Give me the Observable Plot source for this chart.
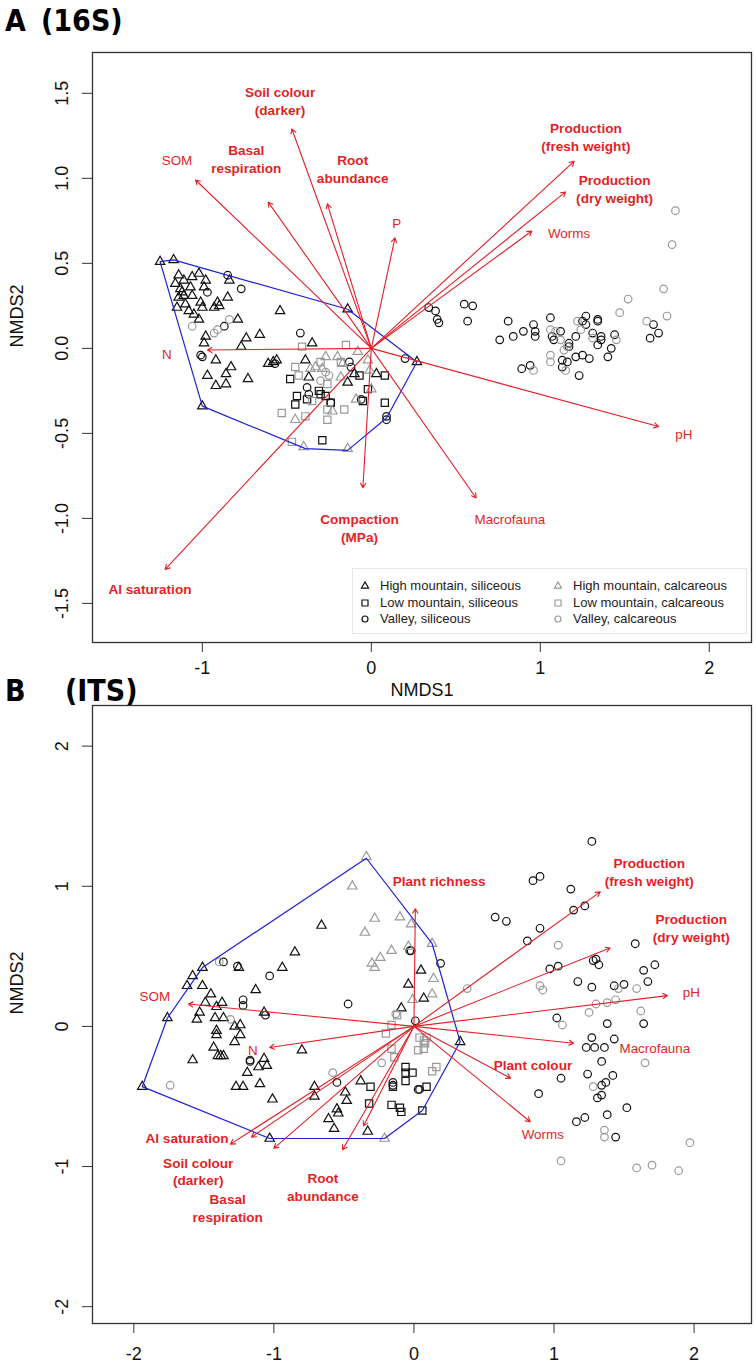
<!DOCTYPE html>
<html><head><meta charset="utf-8">
<script src="https://cdn.jsdelivr.net/npm/d3@7"></script>
<script src="https://cdn.jsdelivr.net/npm/@observablehq/plot@0.6"></script>
<style>
body{margin:0;background:#fff;}
#root{position:relative;width:756px;height:1368px;overflow:hidden;background:#fff;font-family:"Liberation Sans",Arial,Helvetica,sans-serif;}
.panel{position:absolute;left:0;}
.title{position:absolute;font-family:"DejaVu Sans Condensed","DejaVu Sans",sans-serif;font-stretch:condensed;font-weight:bold;font-size:30px;line-height:30px;color:#000;white-space:pre;}
.legend{position:absolute;border:1px solid #e6e6e6;background:#fff;}
.li{position:absolute;font-size:13px;line-height:16px;color:#222;white-space:nowrap;display:flex;align-items:center;}
.li svg{margin-right:10px;overflow:visible;}
</style></head><body><div id="root"></div>
<script>
// ---------------- Panel A (16S) data ----------------
const A_highSil = [[-1.25,0.51],[-1.17,0.52],[-0.84,0.40],[-1.14,0.43],[-1.11,0.40],[-1.06,0.42],[-1.02,0.44],[-0.98,0.40],[-1.16,0.38],[-1.13,0.35],[-1.07,0.36],[-0.99,0.36],[-1.14,0.30],[-1.06,0.31],[-1.01,0.27],[-1.10,0.26],[-1.15,0.24],[-1.08,0.22],[-1.00,0.24],[-0.93,0.24],[-0.91,0.27],[-0.85,0.30],[-0.90,0.25],[-1.02,0.17],[-0.79,0.17],[-0.54,0.22],[-0.14,0.23],[-0.98,0.07],[-0.99,0.03],[-0.74,0.06],[-0.66,0.08],[-0.77,0.01],[-0.35,0.03],[-0.92,-0.07],[-0.83,-0.11],[-0.86,-0.15],[-0.97,-0.16],[-0.92,-0.22],[-0.86,-0.21],[-0.73,-0.18],[-1.00,-0.34],[-0.61,-0.09],[-0.58,-0.08],[-0.56,-0.07],[-0.39,-0.07],[-0.37,-0.17],[-0.14,-0.20],[-0.10,-0.15],[0.03,-0.15],[0.27,-0.08],[-1.12,0.33],[-1.11,0.31],[-1.05,0.20]];
const A_lowSil = [[-0.48,-0.18],[-0.44,-0.28],[-0.45,-0.33],[-0.38,-0.30],[-0.31,-0.25],[-0.30,-0.27],[-0.27,-0.28],[-0.07,-0.16],[0.08,-0.16],[-0.02,-0.24],[-0.05,-0.31],[0.08,-0.32],[-0.29,-0.54],[-0.24,-0.32]];
const A_valleySil = [[-0.85,0.43],[-0.77,0.35],[-0.97,0.33],[-0.87,0.13],[-1.01,-0.04],[-1.00,-0.05],[-0.42,0.09],[-0.57,-0.09],[-0.13,-0.08],[-0.12,-0.11],[-0.38,-0.23],[-0.37,-0.27],[-0.24,-0.32],[-0.06,-0.30],[0.09,-0.40],[0.09,-0.42],[0.20,-0.06],
  [0.34,0.24],[0.38,0.22],[0.39,0.17],[0.40,0.15],[0.55,0.26],[0.60,0.25],[0.57,0.16],[0.81,0.16],[0.76,0.05],[0.84,0.07],[0.90,0.10],[0.96,0.14],[0.97,0.10],[0.97,0.07],[0.89,-0.12],[0.94,-0.10],[1.06,0.18],[1.07,0.07],[1.08,0.05],[1.12,0.10],[1.13,-0.07],[1.13,-0.11],[1.16,-0.08],[1.17,0.03],[1.17,0.01],[1.21,0.07],[1.21,-0.05],[1.23,-0.16],[1.25,0.16],[1.27,0.19],[1.27,0.14],[1.25,-0.04],[1.29,-0.06],[1.31,0.09],[1.34,0.16],[1.34,0.17],[1.34,0.02],[1.36,0.07],[1.36,0.05],[1.40,-0.05],[1.42,0.00],[1.44,0.08],[1.65,0.06],[1.67,0.14],[1.70,0.09]];
const A_highCal = [[-0.27,-0.05],[-0.33,-0.11],[-0.36,-0.12],[-0.20,-0.05],[-0.08,-0.02],[-0.02,-0.07],[-0.17,-0.09],[0.00,-0.24],[-0.09,-0.30],[-0.23,-0.37],[-0.45,-0.42],[-0.40,-0.58],[-0.14,-0.59],[-0.29,-0.12],[-0.18,-0.17],[-0.01,-0.13]];
const A_lowCal = [[-0.41,0.01],[-0.15,0.02],[-0.45,-0.11],[-0.43,-0.16],[-0.26,-0.21],[-0.35,-0.31],[-0.26,-0.36],[-0.16,-0.36],[-0.53,-0.38],[-0.39,-0.40],[-0.26,-0.42],[-0.47,-0.55],[-0.30,-0.08],[-0.18,-0.08]];
const A_valleyCal = [[-1.06,0.13],[-0.93,0.09],[-0.91,0.11],[-0.84,0.17],[-0.27,-0.14],[-0.25,-0.16],[-0.30,-0.19],
  [1.80,0.81],[1.78,0.61],[1.73,0.35],[1.52,0.29],[1.75,0.19],[1.63,0.16],[1.47,0.21],[1.22,0.16],[1.24,0.11],[1.06,0.11],[1.09,0.10],[1.12,0.05],[1.14,-0.01],[1.16,0.01],[1.06,-0.04],[1.06,-0.08],[0.96,-0.13],[1.15,-0.13],[1.31,0.06],[1.45,0.05]];
const A_hull = [[-1.25,0.51],[-1.17,0.52],[-0.14,0.23],[0.27,-0.08],[0.09,-0.41],[-0.14,-0.60],[-0.39,-0.59],[-1.00,-0.34]];
const A_vecX = [-1.04,-0.61,-0.47,-0.26,0.14,1.20,1.15,0.95,1.70,0.62,-0.05,-0.97,-1.22];
const A_vecY = [0.99,0.86,1.29,0.85,0.65,1.10,0.92,0.69,-0.46,-0.88,-0.82,-0.01,-1.30];
const A_labText = ["SOM","Basal\nrespiration","Soil colour\n(darker)","Root\nabundance","P","Production\n(fresh weight)","Production\n(dry weight)","Worms","pH","Macrofauna","Compaction\n(MPa)","N","Al saturation"];
const A_labX = [-1.15,-0.74,-0.54,-0.11,0.15,1.27,1.44,1.17,1.85,0.82,-0.07,-1.21,-1.31];
const A_labY = [1.11,1.12,1.46,1.06,0.74,1.25,0.94,0.68,-0.50,-1.00,-1.05,-0.03,-1.41];
const A_labBold = [false,true,true,true,false,true,true,false,false,false,true,false,true];
const A_xTicks = [-1,0,1,2];
const A_yTicks = [-1.5,-1.0,-0.5,0.0,0.5,1.0,1.5];

// ---------------- Panel B (ITS) data ----------------
const B_highSil = [[-1.51,0.42],[-1.58,0.36],[-1.62,0.29],[-1.51,0.29],[-1.45,0.23],[-1.76,0.06],[-1.37,0.17],[-1.49,0.17],[-1.41,0.14],[-1.53,0.10],[-1.55,0.05],[-1.42,0.06],[-1.36,0.06],[-1.41,-0.03],[-1.41,-0.06],[-1.28,0.00],[-1.24,0.01],[-1.24,-0.06],[-1.28,-0.11],[-1.43,-0.15],[-1.38,-0.21],[-1.36,-0.21],[-1.40,-0.21],[-1.58,-0.24],[-1.07,-0.23],[-1.11,-0.29],[-1.05,-0.28],[-1.19,-0.33],[-1.27,-0.43],[-1.22,-0.43],[-1.10,-0.41],[-0.80,-0.17],[-1.13,0.26],[-1.25,0.42],[-0.94,0.42],[-0.85,0.53],[-0.66,0.72],[-1.07,0.10],[-1.94,-0.43],[0.05,0.40],[-0.04,0.30],[0.07,0.20],[-0.09,0.13],[0.33,-0.11],
  [-0.71,-0.43],[-0.71,-0.50],[-0.49,-0.47],[-0.48,-0.53],[-0.38,-0.39],[-0.55,-0.59],[-0.54,-0.62],[-1.01,-0.52],[-0.61,-0.66],[-0.57,-0.73],[-0.33,-0.75],[-1.03,-0.80]];
const B_lowSil = [[-0.31,-0.43],[-0.06,-0.29],[-0.06,-0.33],[-0.01,-0.33],[-0.06,-0.39],[0.09,-0.43],[-0.32,-0.55],[-0.16,-0.56],[-0.10,-0.58],[-0.09,-0.61],[0.06,-0.60],[-0.15,-0.43]];
const B_valleySil = [[-1.36,0.46],[-1.26,0.43],[-1.03,0.36],[-1.22,0.19],[-1.22,0.15],[-1.06,0.08],[-0.47,0.16],[-0.03,0.54],[-0.02,0.54],[0.19,0.45],[0.01,0.04],[-1.17,-0.24],[-1.17,-0.25],[-0.55,-0.40],[-0.15,-0.40],[-0.15,-0.42],[0.03,-0.45],[0.04,-0.45],
  [1.27,1.32],[0.85,1.04],[0.90,1.07],[1.12,0.98],[1.14,0.83],[1.22,0.86],[0.58,0.78],[0.66,0.75],[0.90,0.70],[0.81,0.61],[0.97,0.41],[1.03,0.43],[1.58,0.59],[1.28,0.47],[1.30,0.48],[1.32,0.44],[1.72,0.44],[1.64,0.40],[1.67,0.32],[1.17,0.32],[1.27,0.28],[1.43,0.29],[1.50,0.30],[1.02,0.06],[1.38,0.02],[1.64,0.02],[1.27,-0.08],[1.23,-0.15],[1.29,-0.15],[1.36,-0.15],[1.43,-0.09],[1.34,-0.25],[1.05,-0.37],[1.24,-0.34],[1.34,-0.42],[1.37,-0.40],[1.42,-0.35],[1.31,-0.51],[1.34,-0.49],[0.89,-0.48],[1.52,-0.58],[1.38,-0.63],[1.16,-0.68],[1.22,-0.65],[1.44,-0.79]];
const B_highCal = [[-0.34,1.21],[-0.44,1.00],[-0.28,0.77],[-0.35,0.67],[-0.10,0.78],[-0.02,0.73],[-0.16,0.54],[-0.24,0.49],[-0.30,0.45],[-0.28,0.42],[-0.04,0.57],[0.13,0.59],[0.14,0.34],[0.13,0.23],[-0.01,0.19],[-0.21,-0.80]];
const B_lowCal = [[-0.12,0.08],[-0.16,0.01],[-0.20,-0.05],[0.04,-0.08],[0.07,-0.10],[0.09,-0.08],[0.08,-0.12],[0.07,-0.16],[0.03,-0.17],[-0.16,-0.16],[-0.14,-0.22],[0.13,-0.32],[0.16,-0.29]];
const B_valleyCal = [[-1.39,0.46],[-1.31,0.05],[-1.74,-0.42],[-0.13,0.09],[0.38,0.27],[-0.58,-0.33],[-0.23,-0.26],[1.03,0.58],[0.90,0.29],[0.92,0.26],[1.46,0.27],[1.59,0.27],[1.06,0.01],[1.25,0.10],[1.30,0.16],[1.38,0.17],[1.44,0.19],[1.62,0.11],[1.65,-0.26],[1.28,-0.43],[1.36,-0.74],[1.36,-0.79],[1.97,-0.83],[1.05,-0.96],[1.59,-1.01],[1.70,-0.99],[1.89,-1.03]];
const B_hull = [[-0.34,1.20],[0.13,0.59],[0.33,-0.11],[0.06,-0.60],[-0.21,-0.80],[-1.03,-0.80],[-1.94,-0.43],[-1.76,0.06],[-1.51,0.42]];
const B_vecX = [0.01,-1.61,-1.03,1.33,1.40,1.81,1.14,0.69,0.83,-1.31,-1.16,-1.00,-0.51,-0.36];
const B_vecY = [0.84,0.16,-0.15,0.96,0.56,0.22,-0.12,-0.37,-0.68,-0.84,-0.79,-0.87,-0.88,-0.71];
const B_labText = ["Plant richness","SOM","N","Production\n(fresh weight)","Production\n(dry weight)","pH","Macrofauna","Plant colour","Worms","Al saturation","Soil colour\n(darker)","Basal\nrespiration","Root\nabundance"];
const B_labX = [0.18,-1.85,-1.15,1.68,1.98,1.98,1.72,0.85,0.92,-1.62,-1.54,-1.33,-0.65];
const B_labY = [1.04,0.22,-0.16,1.11,0.71,0.25,-0.15,-0.27,-0.76,-0.79,-1.03,-1.29,-1.14];
const B_labBold = [true,false,false,true,true,false,false,true,false,true,true,true,true];
const B_xTicks = [-2,-1,0,1,2];
const B_yTicks = [-2,-1,0,1,2];

const groupNames = ["High mountain, siliceous","Low mountain, siliceous","Valley, siliceous","High mountain, calcareous","Low mountain, calcareous","Valley, calcareous"];

// ---------------- styling ----------------
const RED = "#e41f26", BLUE = "#1f1fd6", BLACK = "#111", GRAY = "#9a9a9a", AX = "#333";
const SYM = [{symbol:"triangle2", r:4.5, d3s:d3.symbolTriangle2, size:36},
             {symbol:"square2", r:4.6, d3s:d3.symbolSquare2, size:46},
             {symbol:"circle", r:3.8, d3s:d3.symbolCircle, size:28}];

function panel(o) {
  const groups = o.groups.map((data, i) => ({data, sym: SYM[i % 3], color: i < 3 ? BLACK : GRAY}));
  const vec = o.vecX.map((x, i) => ({x, y: o.vecY[i]}));
  const lab = o.labText.map((t, i) => ({t, x: o.labX[i], y: o.labY[i], b: o.labBold[i]}));
  const marks = [];
  for (const g of groups) {
    marks.push(Plot.dot(g.data, {x: d => d[0], y: d => d[1], symbol: g.sym.symbol, r: g.sym.r, stroke: g.color, strokeWidth: 1.2, fill: "none"}));
  }
  marks.push(Plot.line(o.hull, {x: d => d[0], y: d => d[1], curve: "linear-closed", stroke: BLUE, strokeWidth: 1.2}));
  marks.push(Plot.arrow(vec, {x1: () => 0, y1: () => 0, x2: "x", y2: "y", stroke: RED, strokeWidth: 1.1, headLength: 7}));
  marks.push(Plot.text(lab.filter(d => d.b), {x: "x", y: "y", text: "t", fill: RED, fontWeight: "bold", fontSize: 13.6, lineHeight: 1.32}));
  marks.push(Plot.text(lab.filter(d => !d.b), {x: "x", y: "y", text: "t", fill: RED, fontSize: 13.4, lineHeight: 1.32}));
  marks.push(Plot.frame({stroke: AX, strokeWidth: 1.3}));
  marks.push(Plot.axisX(o.xTicks, {tickSize: 10, tickPadding: o.xPad, fontSize: 18, tickFormat: d => String(d), stroke: AX, fill: "#111", label: null}));
  marks.push(Plot.axisY(o.yTicks, {tickSize: 10, tickFormat: () => "", stroke: AX, label: null}));
  marks.push(Plot.text(o.yTicks, {y: d => d, text: o.yFmt, frameAnchor: "left", dx: -30, rotate: -90, fontSize: 18, fill: "#111", textAnchor: "middle", lineAnchor: "middle"}));
  marks.push(Plot.text(["NMDS2"], {text: d => d, frameAnchor: "left", dx: -75, rotate: -90, fontSize: 18, fill: "#111", lineAnchor: "middle"}));
  if (o.xLabel) marks.push(Plot.text([o.xLabel], {text: d => d, frameAnchor: "bottom", dy: o.xLabelDy, fontSize: 18, fill: "#111", lineAnchor: "middle"}));
  return Plot.plot({
    width: 756, height: o.height,
    marginTop: o.mt, marginBottom: o.mb, marginLeft: 92, marginRight: 5,
    x: {domain: o.xDomain}, y: {domain: o.yDomain},
    style: {fontFamily: '"Liberation Sans", Arial, Helvetica, sans-serif', background: "transparent", overflow: "visible"},
    marks
  });
}

const root = document.getElementById("root");

const svgA = panel({
  groups: [A_highSil, A_lowSil, A_valleySil, A_highCal, A_lowCal, A_valleyCal],
  hull: A_hull, vecX: A_vecX, vecY: A_vecY, labText: A_labText, labX: A_labX, labY: A_labY, labBold: A_labBold,
  xTicks: A_xTicks, yTicks: A_yTicks, yFmt: d => d.toFixed(1),
  xDomain: [-1.65, 2.25], yDomain: [-1.73, 1.74],
  height: 700, mt: 52, mb: 58, xPad: 9, xLabel: "NMDS1", xLabelDy: 48
});
const divA = document.createElement("div"); divA.className = "panel"; divA.style.top = "0px"; divA.appendChild(svgA); root.appendChild(divA);

const svgB = panel({
  groups: [B_highSil, B_lowSil, B_valleySil, B_highCal, B_lowCal, B_valleyCal],
  hull: B_hull, vecX: B_vecX, vecY: B_vecY, labText: B_labText, labX: B_labX, labY: B_labY, labBold: B_labBold,
  xTicks: B_xTicks, yTicks: B_yTicks, yFmt: d => String(d),
  xDomain: [-2.295, 2.41], yDomain: [-2.12, 2.29],
  height: 698, mt: 35, mb: 45, xPad: 14, xLabel: null
});
const divB = document.createElement("div"); divB.className = "panel"; divB.style.top = "670px"; divB.appendChild(svgB); root.appendChild(divB);

// titles
function title(txt, left, top) {
  const t = document.createElement("div"); t.className = "title"; t.textContent = txt;
  t.style.left = left + "px"; t.style.top = top + "px"; root.appendChild(t);
}
title("A", 5, 6); title("(16S)", 41, 6);
title("B", 5, 676); title("(ITS)", 65, 676);

// legend (panel A)
const leg = document.createElement("div"); leg.className = "legend";
Object.assign(leg.style, {left: "352px", top: "568px", width: "393px", height: "64px"});
root.appendChild(leg);
groupNames.forEach((name, i) => {
  const col = i < 3 ? 0 : 1, row = i % 3, s = SYM[i % 3];
  const item = document.createElement("div"); item.className = "li";
  item.style.left = (360 + col * 193) + "px"; item.style.top = (578 + row * 16.7) + "px";
  const sv = d3.create("svg").attr("width", 10).attr("height", 10);
  sv.append("path").attr("transform", "translate(5,5)").attr("d", d3.symbol(s.d3s, s.size)())
    .attr("fill", "none").attr("stroke", i < 3 ? BLACK : GRAY).attr("stroke-width", 1.2);
  item.appendChild(sv.node());
  const sp = document.createElement("span"); sp.textContent = name; item.appendChild(sp);
  root.appendChild(item);
});
</script></body></html>
